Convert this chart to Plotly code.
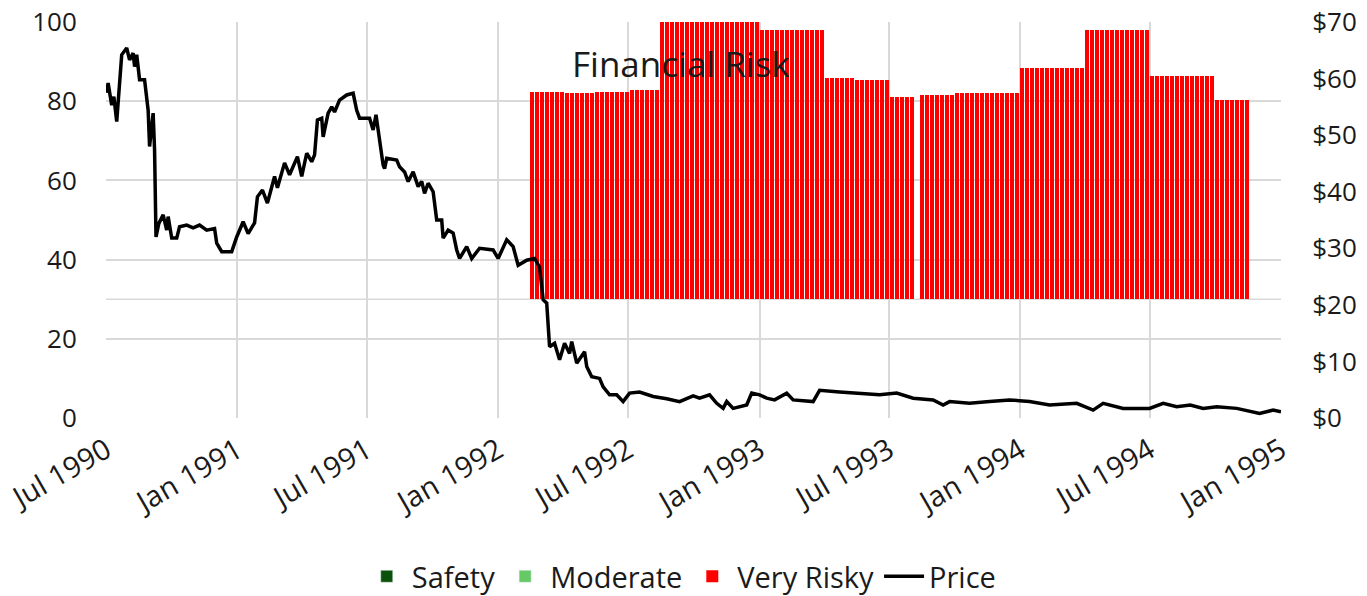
import plotly.graph_objects as go
import pandas as pd

# ---------------- data ----------------
price_dates = [
    "1990-07-01", "1990-07-04", "1990-07-09", "1990-07-12", "1990-07-16", "1990-07-18", "1990-07-23", "1990-07-30",
    "1990-08-03", "1990-08-08", "1990-08-10", "1990-08-13", "1990-08-17", "1990-08-24", "1990-08-29", "1990-08-31",
    "1990-09-05", "1990-09-07", "1990-09-09", "1990-09-13", "1990-09-19", "1990-09-24", "1990-09-26", "1990-10-01",
    "1990-10-08", "1990-10-12", "1990-10-22", "1990-10-31", "1990-11-09", "1990-11-19", "1990-11-30", "1990-12-03",
    "1990-12-10", "1990-12-24", "1990-12-31", "1991-01-09", "1991-01-16", "1991-01-25", "1991-01-29", "1991-02-05",
    "1991-02-12", "1991-02-22", "1991-02-26", "1991-03-08", "1991-03-15", "1991-03-26", "1991-04-01", "1991-04-08",
    "1991-04-15", "1991-04-19", "1991-04-23", "1991-04-29", "1991-05-01", "1991-05-08", "1991-05-13", "1991-05-17",
    "1991-05-24", "1991-06-03", "1991-06-12", "1991-06-17", "1991-06-21", "1991-07-05", "1991-07-10", "1991-07-14",
    "1991-07-17", "1991-07-24", "1991-07-26", "1991-07-29", "1991-08-12", "1991-08-16", "1991-08-23", "1991-08-28",
    "1991-09-04", "1991-09-11", "1991-09-16", "1991-09-20", "1991-09-25", "1991-10-02", "1991-10-07", "1991-10-14",
    "1991-10-16", "1991-10-23", "1991-10-30", "1991-11-04", "1991-11-08", "1991-11-18", "1991-11-25", "1991-12-06",
    "1991-12-25", "1992-01-01", "1992-01-13", "1992-01-22", "1992-01-29", "1992-02-10", "1992-02-21", "1992-02-28",
    "1992-03-04", "1992-03-09", "1992-03-13", "1992-03-20", "1992-03-27", "1992-04-03", "1992-04-10", "1992-04-13",
    "1992-04-20", "1992-05-01", "1992-05-04", "1992-05-11", "1992-05-22", "1992-05-27", "1992-06-05", "1992-06-15",
    "1992-06-24", "1992-07-03", "1992-07-17", "1992-08-05", "1992-08-24", "1992-09-11", "1992-09-30", "1992-10-09",
    "1992-10-23", "1992-11-02", "1992-11-11", "1992-11-16", "1992-11-25", "1992-12-04", "1992-12-14", "1992-12-21",
    "1993-01-01", "1993-01-11", "1993-01-22", "1993-02-08", "1993-02-17", "1993-03-17", "1993-03-26", "1993-04-23",
    "1993-05-21", "1993-06-18", "1993-07-12", "1993-08-04", "1993-09-01", "1993-09-15", "1993-09-24", "1993-10-22",
    "1993-11-19", "1993-12-17", "1994-01-14", "1994-02-11", "1994-03-21", "1994-04-13", "1994-04-27", "1994-05-25",
    "1994-07-01", "1994-07-20", "1994-08-08", "1994-08-27", "1994-09-14", "1994-10-03", "1994-10-31", "1994-12-02",
    "1994-12-21", "1995-01-01",
]
price_values = [
    57.5, 59.2, 55.3, 56.8, 52.4, 56.2, 64.2, 65.4,
    63.3, 64.5, 62.1, 64.2, 59.8, 59.8, 54.4, 48.0,
    53.9, 47.4, 32.0, 34.4, 35.9, 33.2, 35.6, 31.8,
    31.8, 33.8, 34.1, 33.6, 34.1, 33.2, 33.5, 30.9,
    29.4, 29.4, 32.0, 34.7, 32.6, 34.5, 39.1, 40.3,
    38.0, 42.7, 40.7, 45.1, 43.0, 46.2, 42.7, 46.8,
    45.3, 46.5, 52.7, 53.0, 49.7, 53.9, 55.0, 54.1,
    56.2, 57.1, 57.4, 54.4, 53.0, 53.0, 50.9, 53.6,
    50.9, 44.7, 44.1, 45.9, 45.6, 44.4, 43.5, 41.8,
    43.5, 40.9, 41.8, 39.7, 41.5, 40.0, 35.0, 35.0,
    31.8, 33.2, 32.7, 29.7, 28.2, 30.3, 28.2, 30.0,
    29.7, 28.2, 31.5, 30.3, 27.0, 27.9, 28.2, 26.7,
    20.9, 20.3, 12.6, 13.2, 10.3, 13.2, 11.4, 13.5,
    9.7, 11.7, 9.1, 7.3, 7.0, 5.5, 4.1, 4.1,
    2.9, 4.4, 4.6, 3.8, 3.4, 2.9, 3.9, 3.5,
    4.1, 2.6, 1.7, 2.9, 1.7, 2.0, 2.3, 4.4,
    4.1, 3.5, 3.2, 4.4, 3.2, 2.9, 4.9, 4.6,
    4.4, 4.1, 4.4, 3.5, 3.2, 2.3, 2.9, 2.6,
    2.9, 3.2, 2.9, 2.3, 2.6, 1.4, 2.6, 1.7,
    1.7, 2.6, 2.0, 2.3, 1.7, 2.0, 1.7, 0.8,
    1.4, 1.1,
]

# Very Risky score: constant within each reporting period (weekly bars)
risk_period_starts = [
    "1992-02-16", "1992-04-03", "1992-05-15", "1992-07-04", "1992-08-15", "1993-01-01",
    "1993-04-02", "1993-05-15", "1993-07-02", "1993-08-06", "1993-08-13", "1993-10-01",
    "1994-01-01", "1994-03-31", "1994-06-30", "1994-10-01",
]
risk_period_values = [
    82.2, 82.0, 82.3, 82.8, 100.0, 98.0,
    85.8, 85.4, 81.0, None, 81.6, 82.1,
    88.5, 98.0, 86.4, 80.3,
]
risk_first_week = "1992-02-18"
risk_last_week = "1994-11-15"
risk_base = 30

tick_dates = ["1990-07-01", "1991-01-01", "1991-07-01", "1992-01-01", "1992-07-01",
              "1993-01-01", "1993-07-01", "1994-01-01", "1994-07-01", "1995-01-01"]
tick_labels = ["Jul 1990", "Jan 1991", "Jul 1991", "Jan 1992", "Jul 1992",
               "Jan 1993", "Jul 1993", "Jan 1994", "Jul 1994", "Jan 1995"]
left_ticks = [0, 20, 40, 60, 80, 100]
right_ticks = [0, 10, 20, 30, 40, 50, 60, 70]
right_labels = ["$0", "$10", "$20", "$30", "$40", "$50", "$60", "$70"]

# ---------------- build weekly risk bars ----------------
weeks = pd.date_range(risk_first_week, risk_last_week, freq="7D")
starts = pd.to_datetime(risk_period_starts)
bar_x, bar_y = [], []
for w in weeks:
    idx = max(i for i, s in enumerate(starts) if s <= w)
    v = risk_period_values[idx]
    if v is not None:
        bar_x.append(w)
        bar_y.append(v - risk_base)

FONT = "Open Sans"
TXT = "#1a1a1a"
GRID = "#d9d9d9"
DAY_MS = 86400000

fig = go.Figure()
fig.add_trace(go.Bar(x=[None], y=[None], name="Safety", marker_color="#0a520a"))
fig.add_trace(go.Bar(x=[None], y=[None], name="Moderate", marker_color="#66c966"))
fig.add_trace(go.Bar(x=bar_x, y=bar_y, base=risk_base, name="Very Risky",
                     marker=dict(color="#ff0000", line=dict(width=0)),
                     width=5.5 * DAY_MS))
fig.add_trace(go.Scatter(x=pd.to_datetime(price_dates), y=price_values, name="Price",
                         mode="lines", line=dict(color="black", width=3.5), yaxis="y2"))

fig.add_shape(type="line", xref="paper", x0=0, x1=1, yref="y", y0=30, y1=30,
              line=dict(color=GRID, width=1.5), layer="below")

fig.add_annotation(text="Financial Risk", xref="paper", yref="paper", x=0.489, y=0.96,
                   showarrow=False, font=dict(family=FONT, size=35, color=TXT))

fig.update_layout(
    width=1367, height=596,
    margin=dict(l=106, r=86, t=22, b=178, autoexpand=False),
    paper_bgcolor="white", plot_bgcolor="rgba(0,0,0,0)",
    font=dict(family=FONT, size=26, color=TXT),
    bargap=0,
    showlegend=True,
    legend=dict(orientation="h", x=0.49, xanchor="center", y=-0.40, yanchor="middle",
                font=dict(family=FONT, size=29, color=TXT), itemwidth=40, traceorder="normal"),
    xaxis=dict(type="date", range=["1990-07-01", "1995-01-01"], tickvals=tick_dates,
               ticktext=tick_labels, tickangle=-30, showgrid=True, gridcolor=GRID, gridwidth=1.5,
               zeroline=False, showline=False, ticks="outside", ticklen=3, tickcolor="rgba(0,0,0,0)",
               automargin=False, ticklabeloverflow="allow",
               tickfont=dict(family=FONT, size=29, color=TXT)),
    yaxis=dict(range=[0, 100], tickvals=left_ticks, showgrid=True, gridcolor=GRID,
               gridwidth=1.5, zeroline=False, showline=False, ticks="outside", ticklen=23,
               automargin=False, ticklabeloverflow="allow", tickcolor="rgba(0,0,0,0)",
               tickfont=dict(family=FONT, size=26, color=TXT)),
    yaxis2=dict(range=[0, 70], overlaying="y", side="right", tickvals=right_ticks, ticktext=right_labels,
                showgrid=False, zeroline=False, showline=False, ticks="outside",
                ticklen=25, tickcolor="rgba(0,0,0,0)", automargin=False, ticklabeloverflow="allow",
                tickfont=dict(family=FONT, size=26, color=TXT)),
)

# remove the default 8px page margin so the figure fills the window exactly
fig.write_html("out.html", config={"displayModeBar": False},
               post_script="document.body.style.margin='0';")
